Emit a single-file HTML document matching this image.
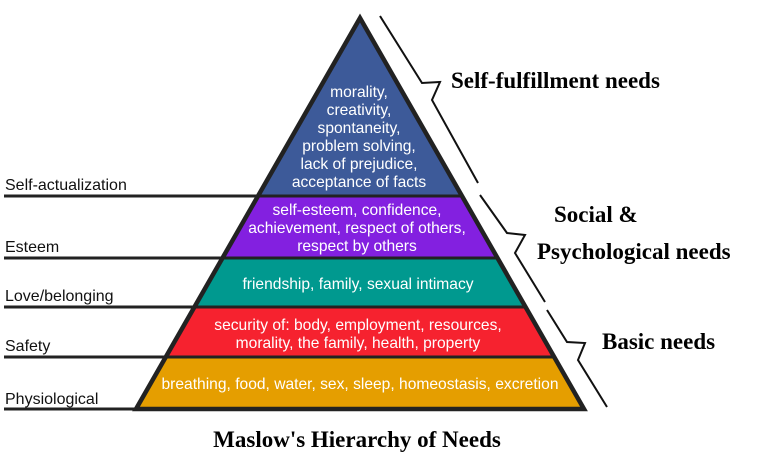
<!DOCTYPE html>
<html><head><meta charset="utf-8"><style>
html,body{margin:0;padding:0;background:#fff;}
svg{display:block;}
.w{font-family:"Liberation Sans",sans-serif;font-size:15.6px;fill:#fff;text-anchor:middle;}
.l{font-family:"Liberation Sans",sans-serif;font-size:16px;fill:#111;}
.b{font-family:"Liberation Serif",serif;font-size:23px;font-weight:bold;fill:#000;}
</style></head><body>
<svg width="767" height="469" viewBox="0 0 767 469" xmlns="http://www.w3.org/2000/svg">
<polygon points="360,18 462,196 258,196" fill="#3d5a99"/>
<polygon points="258,196 462,196 497.5,258 222.5,258" fill="#8320e0"/>
<polygon points="222.5,258 497.5,258 525.6,307 194.4,307" fill="#00998f"/>
<polygon points="194.4,307 525.6,307 554.2,357 165.8,357" fill="#f6222f"/>
<polygon points="165.8,357 554.2,357 584,409 136,409" fill="#e59e00"/>
<g stroke="#222" stroke-width="3">
<line x1="4" y1="196" x2="462" y2="196"/>
<line x1="4" y1="258" x2="497" y2="258"/>
<line x1="4" y1="307" x2="525" y2="307"/>
<line x1="4" y1="357" x2="554" y2="357"/>
<line x1="4" y1="409" x2="584" y2="409"/>
</g>
<polygon points="360,18 584,409 136,409" fill="none" stroke="#222" stroke-width="4.5" stroke-linejoin="miter"/>
<g stroke="#111" stroke-width="2" fill="none">
<polyline points="380,16 422,83 440,82 432,100 478,183"/>
<polyline points="480,195 507,233 525,235 515,253 545,302"/>
<polyline points="547,310 567,342 585,343 578,360 607,407"/>
</g>
<text class="w" x="359" y="97">morality,</text>
<text class="w" x="359" y="115">creativity,</text>
<text class="w" x="359" y="133">spontaneity,</text>
<text class="w" x="359" y="151">problem solving,</text>
<text class="w" x="359" y="169">lack of prejudice,</text>
<text class="w" x="359" y="187">acceptance of facts</text>
<text class="w" x="357" y="215">self-esteem, confidence,</text>
<text class="w" x="357" y="233">achievement, respect of others,</text>
<text class="w" x="357" y="251">respect by others</text>
<text class="w" x="358" y="289">friendship, family, sexual intimacy</text>
<text class="w" x="358" y="330">security of: body, employment, resources,</text>
<text class="w" x="358" y="348">morality, the family, health, property</text>
<text class="w" x="360" y="389">breathing, food, water, sex, sleep, homeostasis, excretion</text>
<text class="l" x="5" y="190">Self-actualization</text>
<text class="l" x="5" y="252">Esteem</text>
<text class="l" x="5" y="301">Love/belonging</text>
<text class="l" x="5" y="351">Safety</text>
<text class="l" x="5" y="404">Physiological</text>
<text class="b" x="451" y="88">Self-fulfillment needs</text>
<text class="b" x="554" y="222">Social &amp;</text>
<text class="b" x="537" y="259">Psychological needs</text>
<text class="b" x="602" y="349">Basic needs</text>
<text class="b" x="357" y="447" text-anchor="middle">Maslow's Hierarchy of Needs</text>
</svg>
</body></html>
